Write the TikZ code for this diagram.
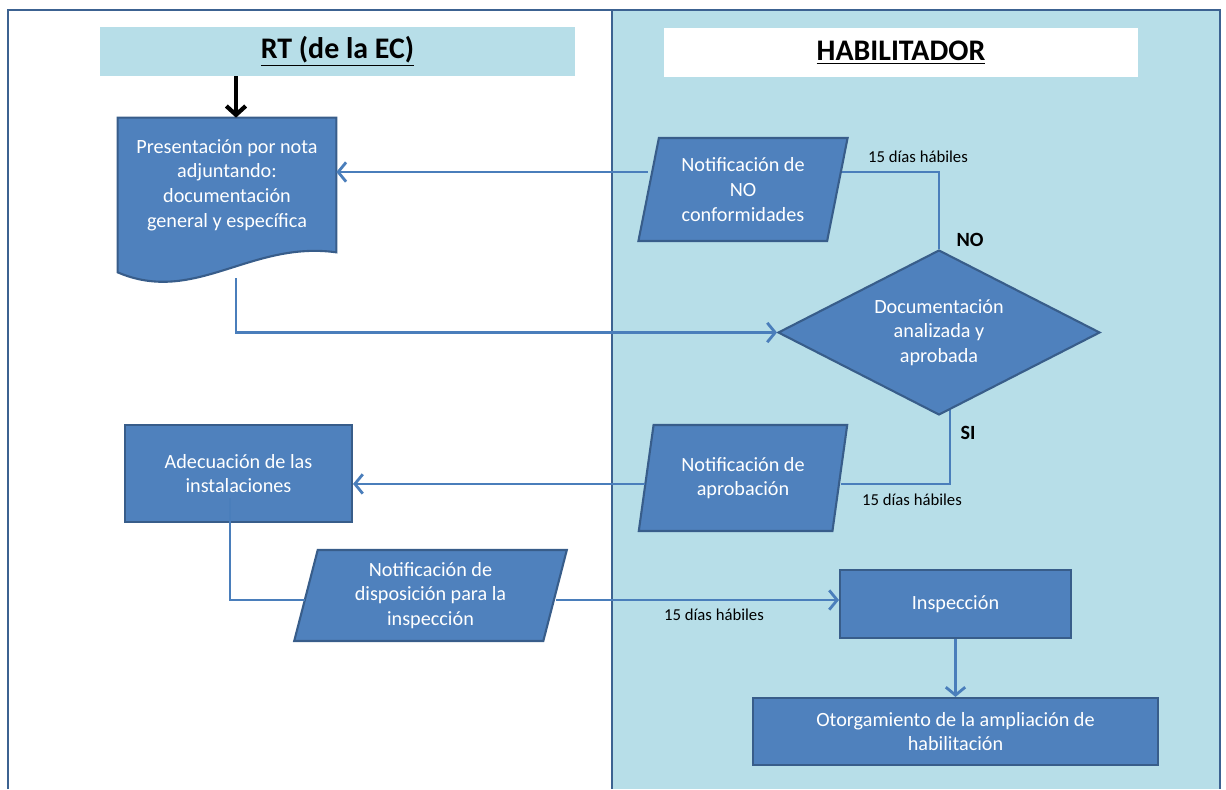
\documentclass[tikz,border=0pt]{standalone}
\usepackage{fontspec}
\setmainfont{Carlito}
\usetikzlibrary{shapes.geometric,positioning,arrows.meta,backgrounds}
\definecolor{panel}{RGB}{183,222,232}
\definecolor{boxfill}{RGB}{79,129,189}
\definecolor{boxline}{RGB}{56,93,138}
\definecolor{flowc}{RGB}{74,126,187}
\definecolor{framec}{RGB}{60,98,145}
\tikzset{
    box/.style={
    rectangle,draw=boxline,fill=boxfill,line width=1.2pt,text=white,align=center,
    font=\fontsize{11.5}{14}\selectfont
    },
    io/.style={
    trapezium,trapezium left angle=77,trapezium right angle=103,trapezium stretches=true,
    draw=boxline,fill=boxfill,line width=1.2pt,text=white,align=center,inner sep=1pt,
    font=\fontsize{11.5}{14}\selectfont
    },
    decision/.style={
    diamond,draw=boxline,fill=boxfill,line width=1.2pt,text=white,align=center,
    inner sep=-7pt,minimum width=6.44cm,minimum height=3.3cm,font=\fontsize{11.5}{14}\selectfont
    },
    doc/.style={
    rectangle,text=white,align=center,minimum width=4.36cm,minimum height=2.68cm,
    font=\fontsize{11.5}{14}\selectfont
    },
    header/.style={
    rectangle,minimum width=9.5cm,minimum height=0.98cm,font=\fontsize{17}{20}\selectfont\bfseries
    },
    flow/.style={draw=flowc,line width=1.6pt},
    arr/.style={-{Straight Barb[length=4.5pt,width=11pt]}},
    lbl/.style={font=\fontsize{9.5}{11}\selectfont},
    answer/.style={font=\fontsize{11.5}{14}\selectfont\bfseries},
}
\begin{document}
\begin{tikzpicture}[x=0.02cm, y=-0.02cm, on grid]
   \useasboundingbox (0,0) rectangle (1226,789);

   \node[header,fill=panel] (RT) at (337.5,51.5) {\underline{RT (de la EC)}};
   \node[header,fill=white] (HAB) at (901,52.5) {\underline{HABILITADOR}};

   \node[doc] (Pres) at (227,185) {Presentación por nota\\adjuntando:\\documentación\\general y específica};
   \node[box,minimum width=4.54cm,minimum height=1.94cm] (Adec) at (238.5,473.5) {Adecuación de las\\instalaciones};
   \node[io,minimum width=5.46cm,minimum height=1.82cm] (Disp) at (430.5,595.5) {Notificación de\\disposición para la\\inspección};

   \node[io,minimum width=4.2cm,minimum height=2.06cm] (NoConf) at (743,189.5) {Notificación de\\NO\\conformidades};
   \node[decision] (Dec) at (939,332.5) {Documentación\\analizada y\\aprobada};
   \node[io,minimum width=4.2cm,minimum height=2.12cm,below=5.77cm of NoConf] (Aprob) {Notificación de\\aprobación};
   \node[box,minimum width=4.62cm,minimum height=1.36cm] (Insp) at (955.5,604) {Inspección};
   \node[box,minimum width=8.1cm,minimum height=1.34cm,below=2.55cm of Insp] (Otor) {Otorgamiento de la ampliación de\\habilitación};

   \node[lbl] (D1) at (918,157) {15 días hábiles};
   \node[lbl] (D2) at (912,500) {15 días hábiles};
   \node[lbl] (D3) at (714,615) {15 días hábiles};
   \node[answer] (No) at (970,240) {NO};
   \node[answer] (Si) at (968,433) {SI};

   \begin{pgfonlayer}{background}
     \fill[panel] (612,10) rectangle (1220,789);
     \draw[framec,line width=1.6pt] (8,789) -- (8,10) -- (1220,10) -- (1220,789);
     \draw[framec,line width=1.6pt] (612,10) -- (612,789);
     \draw[draw=boxline,fill=boxfill,line width=1.2pt] (Pres.north west) -- (Pres.north east) -- (Pres.south east)
       .. controls ([xshift=-1.72cm,yshift=0.24cm]Pres.south east) and ([xshift=1.54cm,yshift=-1.06cm]Pres.south west)
       .. ([yshift=-0.4cm]Pres.south west) -- cycle;
     \path[flow]
       (Dec.north) |- ([yshift=0.35cm]NoConf.east)
       ([xshift=0.22cm,yshift=0.2cm]Dec.south) |- ([yshift=-0.12cm]Aprob.east);
   \end{pgfonlayer}

   \draw[black,line width=2.4pt,-{Straight Barb[length=5pt,width=11pt]}] ([xshift=0.18cm]Pres.north |- RT.south) -- ([xshift=0.18cm]Pres.north);
   \draw[flow,arr] ([yshift=0.35cm]NoConf.west) -- ([yshift=0.35cm]NoConf.west -| Pres.east);
   \draw[flow,arr] ([xshift=0.18cm,yshift=-0.52cm]Pres.south) |- (Dec.west);
   \draw[flow,arr] ([yshift=-0.12cm]Aprob.west) -- ([yshift=-0.12cm]Aprob.west -| Adec.east);
   \draw[flow] ([xshift=-0.17cm,yshift=0.5cm]Adec.south) |- ([yshift=-0.09cm]Disp.west);
   \draw[flow,arr] ([yshift=-0.09cm]Disp.east) -- ([yshift=-0.09cm]Disp.east -| Insp.west);
   \draw[flow,arr] (Insp.south) -- (Otor.north);
\end{tikzpicture}
\end{document}
